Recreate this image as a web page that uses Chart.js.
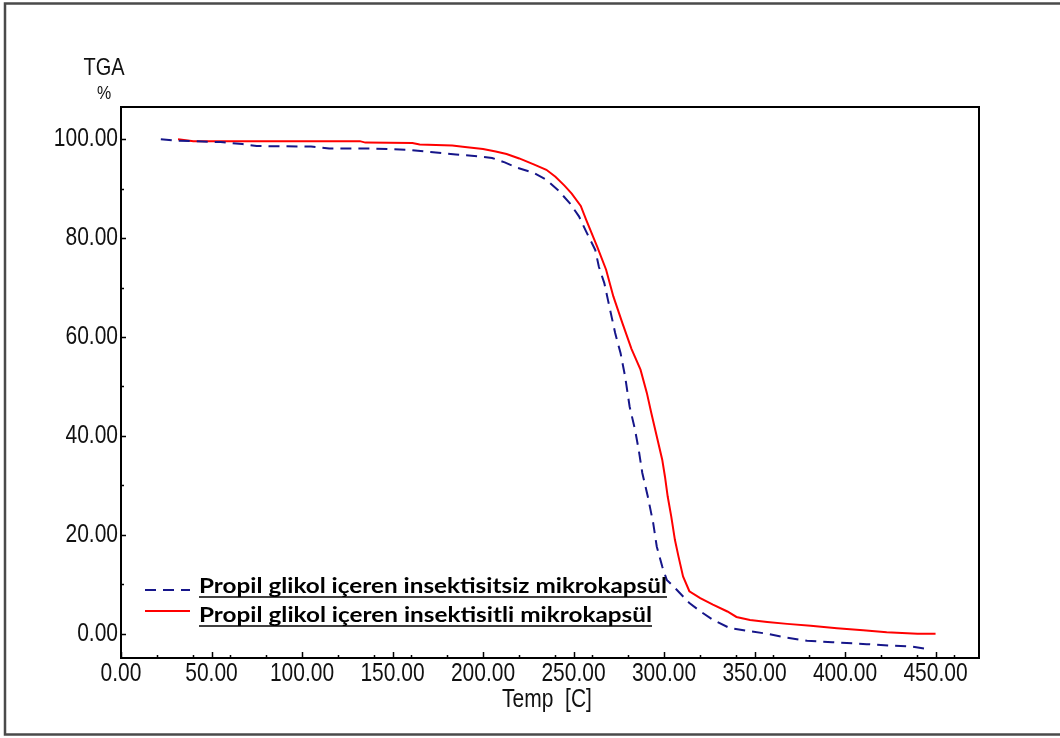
<!DOCTYPE html>
<html>
<head>
<meta charset="utf-8">
<script src="https://cdn.jsdelivr.net/npm/chart.js@4.4.1/dist/chart.umd.min.js"></script>
<style>
  html, body { margin: 0; padding: 0; background: #fff; }
  #wrap { position: relative; width: 1060px; height: 738px; }
</style>
</head>
<body>
<div id="wrap"><canvas id="tga" width="1060" height="738"></canvas></div>
<script>
// TGA curves: temperature (°C) and remaining mass (%)
const tempNoInsecticide = [22, 30, 40, 55, 67, 75, 105, 115, 140, 160, 171, 185, 198, 205, 212, 219, 228, 235, 242, 248, 253, 257, 262, 264, 267, 269, 273, 276, 278.5, 281, 284, 286, 288, 291, 294, 296, 299, 301.5, 307, 314, 321, 327, 336, 346, 357, 368, 379, 393, 412, 426, 437, 444];
const massNoInsecticide = [100.0, 99.7, 99.6, 99.4, 99.0, 98.6, 98.5, 98.1, 98.1, 97.8, 97.4, 96.9, 96.5, 96.2, 95.3, 94.2, 93.2, 91.8, 89.5, 87.0, 84.4, 81.3, 77.6, 74.2, 70.9, 67.5, 60.8, 56.7, 52.0, 45.9, 41.2, 37.2, 32.5, 27.8, 22.4, 17.6, 13.6, 10.9, 8.9, 6.2, 4.3, 2.8, 1.2, 0.6, 0.0, -0.8, -1.4, -1.7, -2.1, -2.4, -2.6, -3.0];

const tempInsecticide = [31.5, 40, 132, 135, 161, 165, 183, 190, 200, 207, 213, 220, 228, 235, 240, 245, 249, 254, 257, 263, 268, 272, 277, 282, 287, 290.5, 293, 296, 299, 300.5, 302, 304, 306, 308, 310.5, 314, 320, 327, 335, 340, 347.5, 357, 368, 381, 395.5, 410, 423, 440, 450];
const massInsecticide = [100.0, 99.6, 99.6, 99.3, 99.2, 98.9, 98.7, 98.4, 98.0, 97.5, 97.0, 96.1, 94.9, 93.8, 92.4, 90.6, 89.0, 86.5, 83.7, 78.3, 73.6, 68.2, 62.8, 57.6, 53.4, 48.7, 44.6, 39.9, 35.2, 31.8, 27.8, 23.7, 19.0, 15.6, 11.6, 8.6, 7.2, 5.9, 4.5, 3.4, 2.8, 2.4, 2.0, 1.6, 1.1, 0.7, 0.3, 0.0, 0.0];

const seriesNames = ['Propil glikol içeren insektisitsiz mikrokapsül', 'Propil glikol içeren insektisitli mikrokapsül'];

// axis ticks
const xTickValues = [0, 50, 100, 150, 200, 250, 300, 350, 400, 450];
const xMinorTicks = [20, 40, 60, 80, 100, 120, 140, 160, 180, 200, 220, 240, 260, 280, 300, 320, 340, 360, 380, 400, 420, 440, 460];
const yTickValues = [0, 20, 40, 60, 80, 100];
const yMinorTicks = [10, 30, 50, 70, 90];
const xTitle = 'Temp  [C]';
const yTitleLines = ['TGA', '%'];

const LABEL_FAMILY = "'Liberation Sans', Arial, sans-serif";
const LABEL_COLOR = '#111';
const fmt = v => Number(v).toFixed(2);

const toPoints = (xs, ys) => xs.map((x, i) => ({ x, y: ys[i] }));

// text drawn with the tall, narrow look of the instrument software
function tallText(ctx, text, x, y, size, align, stretch) {
  ctx.save();
  ctx.font = `${size}px ${LABEL_FAMILY}`;
  ctx.fillStyle = LABEL_COLOR;
  ctx.textAlign = align;
  ctx.textBaseline = 'middle';
  ctx.translate(x, y);
  ctx.scale(1, stretch);
  ctx.fillText(text, 0, 0);
  ctx.restore();
}

// frame, inward tick marks, axis labels and underlined legend
const decorations = {
  id: 'decorations',
  afterDraw(chart) {
    const { ctx, chartArea: a, scales } = chart;
    const xs = scales.x, ys = scales.y;
    ctx.save();

    // outer window border
    ctx.strokeStyle = '#4a4a4a';
    ctx.lineWidth = 2.5;
    ctx.strokeRect(5, 3.5, 1060 - 3, 731);

    // plot box
    ctx.strokeStyle = '#000';
    ctx.lineWidth = 2;
    ctx.strokeRect(a.left, a.top, a.right - a.left, a.bottom - a.top);

    // inward ticks
    ctx.lineWidth = 1.5;
    ctx.beginPath();
    xTickValues.forEach(v => { const p = Math.round(xs.getPixelForValue(v)) + 0.5; ctx.moveTo(p, a.bottom); ctx.lineTo(p, a.bottom - 6); });
    xMinorTicks.forEach(v => { const p = Math.round(xs.getPixelForValue(v)) + 0.5; ctx.moveTo(p, a.bottom); ctx.lineTo(p, a.bottom - 3); });
    yTickValues.forEach(v => { const p = Math.round(ys.getPixelForValue(v)) + 0.5; ctx.moveTo(a.left, p); ctx.lineTo(a.left + 5, p); });
    yMinorTicks.forEach(v => { const p = Math.round(ys.getPixelForValue(v)) + 0.5; ctx.moveTo(a.left, p); ctx.lineTo(a.left + 3, p); });
    ctx.stroke();

    // tick labels from the scales
    xs.ticks.forEach(t => tallText(ctx, fmt(t.value), xs.getPixelForValue(t.value), a.bottom + 16, 21, 'center', 1.2));
    ys.ticks.forEach(t => tallText(ctx, fmt(t.value), a.left - 3, ys.getPixelForValue(t.value), 21, 'right', 1.2));

    // axis titles
    tallText(ctx, xTitle, (a.left + a.right) / 2 - 3, 700, 21, 'center', 1.2);
    tallText(ctx, yTitleLines[0], 104, 68, 20, 'center', 1.2);
    tallText(ctx, yTitleLines[1], 104, 94, 16, 'center', 1.15);

    // legend
    const rows = [
      { ds: chart.data.datasets[0], sampleY: 590, baseY: 593, width: 468 },
      { ds: chart.data.datasets[1], sampleY: 611, baseY: 622, width: 453 }
    ];
    const textX = 199;
    rows.forEach(r => {
      ctx.strokeStyle = r.ds.borderColor;
      ctx.lineWidth = r.ds.borderWidth;
      ctx.setLineDash(r.ds.borderDash || []);
      ctx.beginPath();
      ctx.moveTo(145, r.sampleY);
      ctx.lineTo(190, r.sampleY);
      ctx.stroke();
      ctx.setLineDash([]);

      ctx.font = "bold 19px Lato, 'Open Sans', sans-serif";
      ctx.textAlign = 'left';
      ctx.textBaseline = 'alphabetic';
      ctx.fillStyle = '#000';
      const w = ctx.measureText(r.ds.label).width;
      ctx.save();
      ctx.translate(textX, r.baseY);
      ctx.scale(r.width / w, 1.05);
      ctx.fillText(r.ds.label, 0, 0);
      ctx.restore();
      ctx.strokeStyle = '#000';
      ctx.lineWidth = 1.5;
      ctx.beginPath();
      ctx.moveTo(textX, r.baseY + 4);
      ctx.lineTo(textX + r.width, r.baseY + 4);
      ctx.stroke();
    });

    ctx.restore();
  }
};

new Chart(document.getElementById('tga'), {
  type: 'line',
  data: {
    datasets: [
      {
        label: seriesNames[0],
        data: toPoints(tempNoInsecticide, massNoInsecticide),
        borderColor: '#16168a',
        borderWidth: 2,
        borderDash: [11, 7],
        pointRadius: 0,
        tension: 0,
        fill: false
      },
      {
        label: seriesNames[1],
        data: toPoints(tempInsecticide, massInsecticide),
        borderColor: '#ff0000',
        borderWidth: 2,
        pointRadius: 0,
        tension: 0,
        fill: false
      }
    ]
  },
  options: {
    responsive: false,
    animation: false,
    events: [],
    layout: { padding: { left: 0, top: 107, right: 81, bottom: 0 } },
    plugins: { legend: { display: false }, tooltip: { enabled: false }, title: { display: false } },
    scales: {
      x: {
        type: 'linear',
        min: 0,
        max: 474,
        grid: { display: false, drawTicks: false },
        border: { display: false },
        afterBuildTicks: s => { s.ticks = xTickValues.map(v => ({ value: v })); },
        afterFit: s => { s.height = 80; },
        ticks: { display: false }
      },
      y: {
        type: 'linear',
        min: -4.9,
        max: 106.5,
        grid: { display: false, drawTicks: false },
        border: { display: false },
        afterBuildTicks: s => { s.ticks = yTickValues.map(v => ({ value: v })); },
        afterFit: s => { s.width = 121; },
        ticks: { display: false }
      }
    }
  },
  plugins: [decorations]
});
</script>
</body>
</html>
